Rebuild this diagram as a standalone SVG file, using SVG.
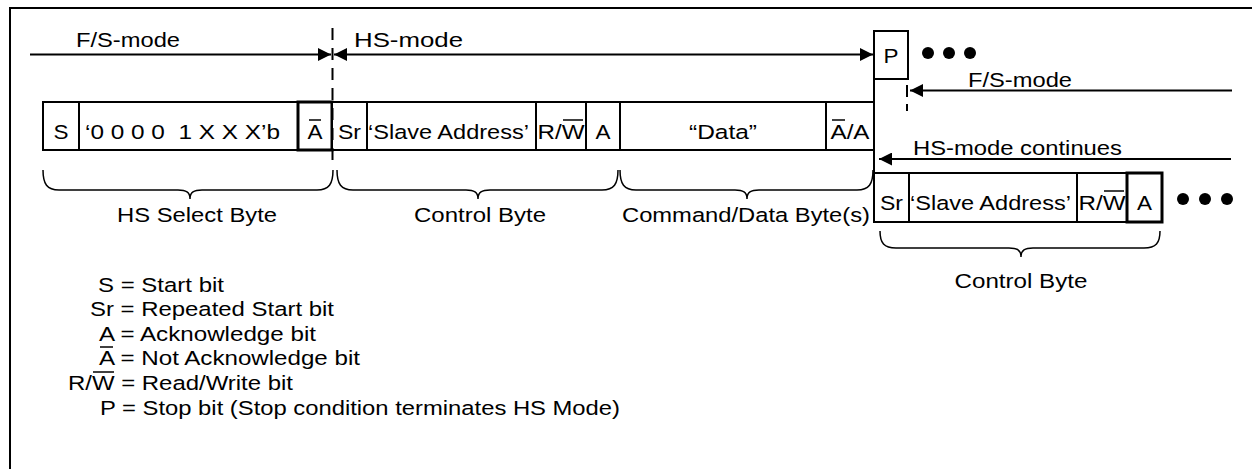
<svg xmlns="http://www.w3.org/2000/svg" width="1252" height="469" viewBox="0 0 1252 469">
<style>
.t{font-family:"Liberation Sans",Arial,Helvetica,sans-serif;font-size:20.5px;fill:#000}
.m{text-anchor:middle}
.box{fill:#fff;stroke:#000;stroke-width:2}
.thick{stroke-width:3}
.ln{fill:none;stroke:#000;stroke-width:2}
.br{fill:none;stroke:#000;stroke-width:1.5}
.ov{stroke:#000;stroke-width:1.5}
.dash{fill:none;stroke:#000;stroke-width:2;stroke-dasharray:12 8}
.dot{fill:#000}
</style>
<defs>
<marker id="ah" markerUnits="userSpaceOnUse" markerWidth="14" markerHeight="13" refX="13" refY="6.5" orient="auto-start-reverse">
<path d="M0,0 L13,6.5 L0,13 z" fill="#000"/>
</marker>
</defs>
<rect width="1252" height="469" fill="#fff"/>
<path class="ln" d="M10,469 V8 H1252"/>

<g id="row1">
<g id="cell-s"><rect class="box" x="43" y="102" width="36" height="48"/><text class="t m" x="61" y="139" textLength="15" lengthAdjust="spacingAndGlyphs">S</text></g>
<g id="cell-hs-select"><rect class="box" x="79" y="102" width="219" height="48"/><text class="t" x="85" y="139" textLength="195" lengthAdjust="spacingAndGlyphs" xml:space="preserve">‘0 0 0 0  1 X X X’b</text></g>
<g id="cell-nack1"><rect class="box thick" x="298" y="102" width="34" height="48"/><text class="t m" x="315" y="139" textLength="15" lengthAdjust="spacingAndGlyphs">A</text><line class="ov" x1="309" y1="120" x2="321" y2="120"/></g>
<g id="cell-sr1"><rect class="box" x="332" y="102" width="35" height="48"/><text class="t m" x="349.5" y="139" textLength="23" lengthAdjust="spacingAndGlyphs">Sr</text></g>
<g id="cell-addr1"><rect class="box" x="367" y="102" width="169" height="48"/><text class="t" x="368" y="139" textLength="161" lengthAdjust="spacingAndGlyphs">‘Slave Address’</text></g>
<g id="cell-rw1"><rect class="box" x="536" y="102" width="50" height="48"/><text class="t m" x="561" y="139" textLength="47" lengthAdjust="spacingAndGlyphs">R/W</text><line class="ov" x1="563" y1="120" x2="583" y2="120"/></g>
<g id="cell-a1"><rect class="box" x="586" y="102" width="34" height="48"/><text class="t m" x="603" y="139" textLength="15" lengthAdjust="spacingAndGlyphs">A</text></g>
<g id="cell-data"><rect class="box" x="620" y="102" width="206" height="48"/><text class="t m" x="723" y="139" textLength="68" lengthAdjust="spacingAndGlyphs">“Data”</text></g>
<g id="cell-nacka"><rect class="box" x="826" y="102" width="48" height="48"/><text class="t m" x="850" y="139" textLength="39" lengthAdjust="spacingAndGlyphs">A/A</text><line class="ov" x1="832" y1="120" x2="845" y2="120"/></g>
</g>

<g id="cell-p"><rect class="box" x="874" y="31" width="34" height="48"/><text class="t m" x="891" y="63" textLength="15" lengthAdjust="spacingAndGlyphs">P</text></g>

<g id="row2">
<g id="cell-sr2"><rect class="box" x="874" y="173" width="35" height="49"/><text class="t m" x="891.5" y="210" textLength="23" lengthAdjust="spacingAndGlyphs">Sr</text></g>
<g id="cell-addr2"><rect class="box" x="909" y="173" width="168" height="49"/><text class="t" x="910" y="210" textLength="161" lengthAdjust="spacingAndGlyphs">‘Slave Address’</text></g>
<g id="cell-rw2"><rect class="box" x="1077" y="173" width="50" height="49"/><text class="t m" x="1102" y="210" textLength="47" lengthAdjust="spacingAndGlyphs">R/W</text><line class="ov" x1="1104" y1="191" x2="1124" y2="191"/></g>
<g id="cell-a2"><rect class="box thick" x="1127" y="173" width="35" height="49"/><text class="t m" x="1144.5" y="210" textLength="15" lengthAdjust="spacingAndGlyphs">A</text></g>
</g>

<g id="connectors">
<path class="dash" d="M332.5,28 V166"/>
<path class="ln" d="M907,85 V97 M907,104 V111"/>
<line class="ln" x1="874" y1="31" x2="874" y2="222"/>
<line class="ln" x1="30" y1="54.5" x2="331" y2="54.5" marker-end="url(#ah)"/>
<line class="ln" x1="334" y1="54.5" x2="873" y2="54.5" marker-start="url(#ah)" marker-end="url(#ah)"/>
<line class="ln" x1="1232" y1="90.5" x2="910" y2="90.5" marker-end="url(#ah)"/>
<line class="ln" x1="1231" y1="159" x2="879" y2="159" marker-end="url(#ah)"/>
</g>

<g id="braces">
<path class="br" d="M43,170 C43,184 47,190 59,190 L178,190 C186,190 190,192 190,199 C190,192 194,190 202,190 L317,190 C329,190 333,184 333,170"/>
<path class="br" d="M337,170 C337,184 341,190 353,190 L466,190 C474,190 478,192 478,199 C478,192 482,190 490,190 L602,190 C614,190 618,184 618,170"/>
<path class="br" d="M620,170 C620,184 624,190 636,190 L735,190 C743,190 747,192 747,199 C747,192 751,190 759,190 L857,190 C869,190 873,184 873,170"/>
<path class="br" d="M880,231 C880,243 884,248 896,248 L1009,248 C1017,248 1021,250 1021,257 C1021,250 1025,248 1033,248 L1144,248 C1156,248 1160,243 1160,231"/>
</g>

<g id="labels">
<text class="t" x="76" y="47" textLength="104" lengthAdjust="spacingAndGlyphs">F/S-mode</text>
<text class="t" x="354" y="47" textLength="109" lengthAdjust="spacingAndGlyphs">HS-mode</text>
<text class="t" x="968" y="87" textLength="104" lengthAdjust="spacingAndGlyphs">F/S-mode</text>
<text class="t" x="913" y="155" textLength="209" lengthAdjust="spacingAndGlyphs">HS-mode continues</text>
<text class="t m" x="197" y="222" textLength="160" lengthAdjust="spacingAndGlyphs">HS Select Byte</text>
<text class="t m" x="480" y="222" textLength="132" lengthAdjust="spacingAndGlyphs">Control Byte</text>
<text class="t m" x="746" y="222" textLength="248" lengthAdjust="spacingAndGlyphs">Command/Data Byte(s)</text>
<text class="t m" x="1021" y="288" textLength="133" lengthAdjust="spacingAndGlyphs">Control Byte</text>
<circle class="dot" cx="928" cy="53" r="6"/>
<circle class="dot" cx="949" cy="53" r="6"/>
<circle class="dot" cx="970" cy="53" r="6"/>
<circle class="dot" cx="1183" cy="199" r="6"/>
<circle class="dot" cx="1205" cy="199" r="6"/>
<circle class="dot" cx="1227" cy="199" r="6"/>
</g>

<g id="legend">
<text class="t" x="98" y="292" textLength="126" lengthAdjust="spacingAndGlyphs">S = Start bit</text>
<text class="t" x="90" y="316" textLength="244" lengthAdjust="spacingAndGlyphs">Sr = Repeated Start bit</text>
<text class="t" x="99" y="341" textLength="217" lengthAdjust="spacingAndGlyphs">A = Acknowledge bit</text>
<text class="t" x="99" y="365" textLength="261" lengthAdjust="spacingAndGlyphs">A = Not Acknowledge bit</text>
<line class="ov" x1="100" y1="347" x2="113" y2="347"/>
<text class="t" x="68" y="390" textLength="225" lengthAdjust="spacingAndGlyphs">R/W = Read/Write bit</text>
<line class="ov" x1="93" y1="372" x2="114" y2="372"/>
<text class="t" x="100" y="415" textLength="520" lengthAdjust="spacingAndGlyphs">P = Stop bit (Stop condition terminates HS Mode)</text>
</g>
</svg>
